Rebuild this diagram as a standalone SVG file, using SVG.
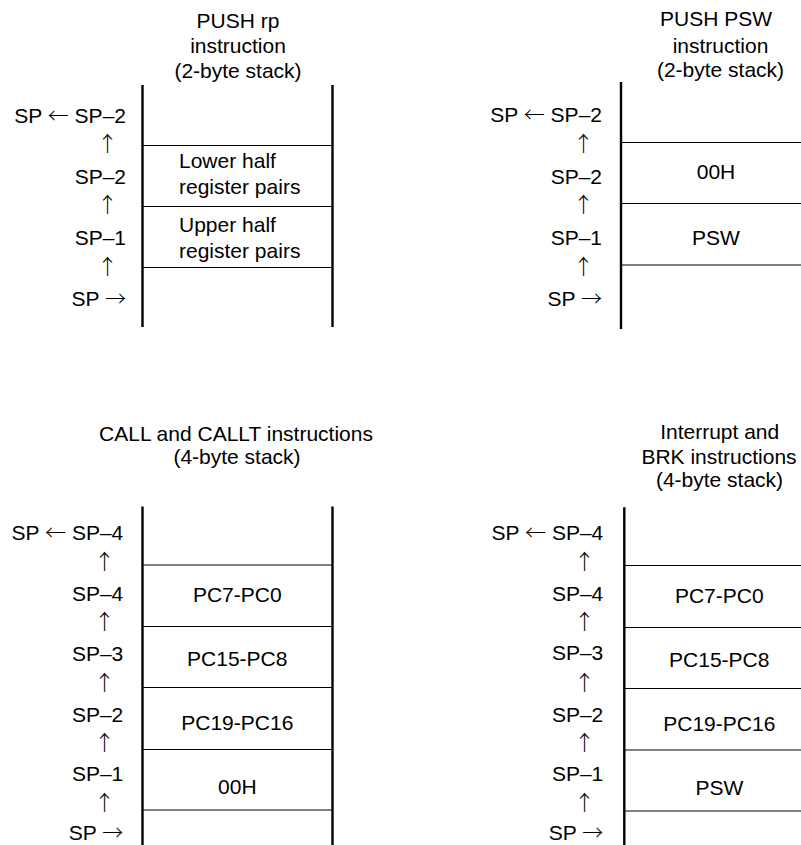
<svg xmlns="http://www.w3.org/2000/svg" width="801" height="845" viewBox="0 0 801 845">
<style>
text{font-family:"Liberation Sans",Arial,Helvetica,sans-serif;font-size:21px;fill:#000}
.a{font-family:"Noto Sans CJK SC",sans-serif;font-size:21px;font-weight:300}
.m{text-anchor:middle}
.e{text-anchor:end}
.v{stroke:#000;stroke-width:2.4;fill:none}
.h{stroke:#000;stroke-width:1;fill:none}
</style>
<rect width="801" height="845" fill="#fff"/>

<g id="push-rp">
  <text class="m" x="238" y="28">PUSH rp</text>
  <text class="m" x="238" y="53">instruction</text>
  <text class="m" x="238" y="77.5">(2-byte stack)</text>
  <line class="v" x1="142.5" y1="85" x2="142.5" y2="327"/>
  <line class="v" x1="332.5" y1="85" x2="332.5" y2="327"/>
  <line class="h" x1="143" y1="145.5" x2="332" y2="145.5"/>
  <line class="h" x1="143" y1="206.5" x2="332" y2="206.5"/>
  <line class="h" x1="143" y1="267.5" x2="332" y2="267.5"/>
  <text class="e" x="126" y="122.7">SP <tspan class="a">←</tspan> SP–2</text>
  <text class="m a" x="107.5" y="151">↑</text>
  <text class="e" x="126" y="184">SP–2</text>
  <text class="m a" x="107.5" y="212">↑</text>
  <text class="e" x="126" y="245">SP–1</text>
  <text class="m a" x="107.5" y="274">↑</text>
  <text class="e" x="126" y="306">SP <tspan class="a">→</tspan></text>
  <text x="179" y="168.3">Lower half</text>
  <text x="179" y="194">register pairs</text>
  <text x="179" y="232">Upper half</text>
  <text x="179" y="258">register pairs</text>
</g>

<g id="push-psw">
  <text class="m" x="716" y="26">PUSH PSW</text>
  <text class="m" x="720.5" y="53">instruction</text>
  <text class="m" x="720.5" y="77">(2-byte stack)</text>
  <line class="v" x1="621" y1="82" x2="621" y2="329"/>
  <line class="h" x1="622" y1="142.5" x2="801" y2="142.5"/>
  <line class="h" x1="622" y1="203.5" x2="801" y2="203.5"/>
  <line class="h" x1="622" y1="265" x2="801" y2="265"/>
  <text class="e" x="602" y="122.3">SP <tspan class="a">←</tspan> SP–2</text>
  <text class="m a" x="583.5" y="151">↑</text>
  <text class="e" x="602" y="184">SP–2</text>
  <text class="m a" x="583.5" y="212">↑</text>
  <text class="e" x="602" y="245">SP–1</text>
  <text class="m a" x="583.5" y="274">↑</text>
  <text class="e" x="602" y="306">SP <tspan class="a">→</tspan></text>
  <text class="m" x="716" y="178.5">00H</text>
  <text class="m" x="716" y="245">PSW</text>
</g>

<g id="call-callt">
  <text class="m" x="236" y="440.7">CALL and CALLT instructions</text>
  <text class="m" x="237" y="463.5">(4-byte stack)</text>
  <line class="v" x1="142.5" y1="506.5" x2="142.5" y2="845"/>
  <line class="v" x1="332.5" y1="506.5" x2="332.5" y2="845"/>
  <line class="h" x1="143" y1="565" x2="332" y2="565"/>
  <line class="h" x1="143" y1="626.5" x2="332" y2="626.5"/>
  <line class="h" x1="143" y1="687.5" x2="332" y2="687.5"/>
  <line class="h" x1="143" y1="749.5" x2="332" y2="749.5"/>
  <line class="h" x1="143" y1="810" x2="332" y2="810"/>
  <text class="e" x="123.3" y="540">SP <tspan class="a">←</tspan> SP–4</text>
  <text class="m a" x="104.5" y="569">↑</text>
  <text class="e" x="123.3" y="600.7">SP–4</text>
  <text class="m a" x="104.5" y="629">↑</text>
  <text class="e" x="123.3" y="660.7">SP–3</text>
  <text class="m a" x="104.5" y="690">↑</text>
  <text class="e" x="123.3" y="721.7">SP–2</text>
  <text class="m a" x="104.5" y="750">↑</text>
  <text class="e" x="123.3" y="781">SP–1</text>
  <text class="m a" x="104.5" y="810">↑</text>
  <text class="e" x="123.3" y="840">SP <tspan class="a">→</tspan></text>
  <text class="m" x="237.3" y="601.7">PC7-PC0</text>
  <text class="m" x="237.3" y="666">PC15-PC8</text>
  <text class="m" x="237.3" y="730">PC19-PC16</text>
  <text class="m" x="237.3" y="794">00H</text>
</g>

<g id="interrupt-brk">
  <text class="m" x="719.7" y="439.3">Interrupt and</text>
  <text class="m" x="719" y="464">BRK instructions</text>
  <text class="m" x="719.5" y="487">(4-byte stack)</text>
  <line class="v" x1="624.3" y1="507.3" x2="624.3" y2="845"/>
  <line class="h" x1="625" y1="565.5" x2="801" y2="565.5"/>
  <line class="h" x1="625" y1="627.5" x2="801" y2="627.5"/>
  <line class="h" x1="625" y1="688.5" x2="801" y2="688.5"/>
  <line class="h" x1="625" y1="750" x2="801" y2="750"/>
  <line class="h" x1="625" y1="811" x2="801" y2="811"/>
  <text class="e" x="603.3" y="540">SP <tspan class="a">←</tspan> SP–4</text>
  <text class="m a" x="584.5" y="569">↑</text>
  <text class="e" x="603.3" y="600.7">SP–4</text>
  <text class="m a" x="584.5" y="629">↑</text>
  <text class="e" x="603.3" y="660">SP–3</text>
  <text class="m a" x="584.5" y="690">↑</text>
  <text class="e" x="603.3" y="721.7">SP–2</text>
  <text class="m a" x="584.5" y="750">↑</text>
  <text class="e" x="603.3" y="781">SP–1</text>
  <text class="m a" x="584.5" y="810">↑</text>
  <text class="e" x="603.3" y="840">SP <tspan class="a">→</tspan></text>
  <text class="m" x="719.3" y="603.3">PC7-PC0</text>
  <text class="m" x="719.3" y="666.7">PC15-PC8</text>
  <text class="m" x="719.3" y="730.7">PC19-PC16</text>
  <text class="m" x="719.3" y="795">PSW</text>
</g>
</svg>
